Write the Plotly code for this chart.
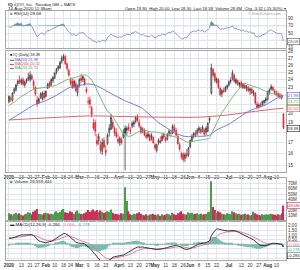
import numpy as np
import pandas as pd
import plotly.graph_objects as go

W, H = 300, 270

# ---------------- data ----------------
warmup_close = [16.6, 16.9, 17.1, 17.0, 17.3, 17.2, 17.5, 17.4, 17.6,
                17.8, 17.5, 17.9, 18.2, 18.0, 17.7, 17.9, 18.3, 18.1, 18.4, 18.6,
                18.2, 18.5, 18.9, 18.7, 19.0, 18.8, 19.1, 18.9, 19.2,
                19.0, 19.3, 19.6, 19.4, 19.8, 20.1, 19.9, 20.4, 20.8, 21.3, 21.9,
                21.6, 21.2, 20.9, 21.4, 21.1, 20.8, 21.0, 21.3, 21.1, 21.1]

open_ = [21.3, 21.5, 21.4, 22.4, 22.7, 23.5, 24.0, 23.6, 24.0, 23.3, 23.8, 24.1, 24.0, 24.5, 23.8, 23.0, 21.5, 21.2, 21.8, 21.6, 22.3,
         21.9, 22.9, 23.6, 23.3, 23.9, 24.2, 25.0, 25.5, 25.6, 26.5, 27.0, 27.3, 26.2, 25.3, 24.0, 23.8, 23.1, 23.5, 22.3,
         23.3, 24.2, 24.0, 24.1, 22.8, 21.2, 21.5, 20.6, 18.9, 19.0, 17.2, 17.2, 16.8, 16.2, 17.2, 16.3, 16.9, 18.0, 18.3, 19.0, 18.4, 18.0,
         17.3, 17.0, 17.3, 17.5, 18.4, 18.2, 18.5, 18.2, 18.6, 18.8, 19.1, 19.6, 19.0, 18.5, 18.2, 18.2, 17.7, 17.8, 17.7, 17.5, 17.5,
         16.8, 16.3, 17.0, 17.2, 17.2, 17.8, 17.4, 17.3, 17.9, 17.9, 17.9, 18.5, 18.2, 17.6, 16.8, 16.0, 16.0, 15.6, 16.0, 15.9,
         16.6, 17.2, 17.7, 17.9, 17.9, 18.2, 18.3, 18.1, 18.2, 18.0, 18.1, 19.2, 22.3, 25.4, 24.8, 23.7, 24.0, 22.9, 22.2, 22.6, 22.5, 23.0,
         23.3, 23.9, 24.2, 24.6, 23.6, 23.9, 23.3, 23.6, 23.0, 23.3, 22.9, 23.0, 22.6, 22.8, 22.3, 22.3, 21.0, 20.7, 20.9, 20.9, 21.2, 21.4,
         21.5, 22.4, 22.8, 23.0, 22.6, 22.3, 22.2, 21.9, 22.0, 19.9]
high = [22.0, 21.9, 22.4, 23.0, 23.5, 24.0, 24.6, 24.2, 24.3, 23.9, 24.2, 24.9, 25.1, 24.8, 24.0, 23.2, 21.9, 21.8, 22.4, 22.5, 22.6,
        22.6, 23.6, 23.8, 24.2, 24.5, 25.0, 25.6, 26.0, 26.6, 27.4, 27.6, 27.5, 26.4, 25.5, 24.3, 24.2, 24.0, 23.9, 23.4,
        24.2, 24.8, 24.6, 24.3, 23.1, 21.8, 21.9, 20.8, 19.4, 19.3, 17.8, 17.9, 17.2, 17.4, 17.5, 16.8, 17.9, 18.8, 19.9, 19.3, 18.6, 18.4,
        17.8, 17.6, 17.5, 18.3, 18.7, 18.6, 18.9, 18.5, 19.1, 19.2, 19.7, 19.9, 19.3, 18.7, 18.5, 18.4, 18.0, 18.1, 17.9, 17.9, 17.6,
        17.0, 16.9, 17.4, 17.6, 17.8, 18.0, 17.6, 17.9, 18.3, 18.2, 18.8, 18.8, 18.4, 17.8, 17.0, 16.2, 16.1, 16.1, 16.4, 16.6,
        17.3, 17.8, 18.0, 18.2, 18.4, 18.6, 18.5, 18.7, 18.4, 18.6, 19.0, 19.6, 26.2, 25.6, 25.0, 24.3, 24.2, 23.1, 22.8, 23.0, 23.2, 23.4,
        23.9, 24.3, 25.3, 24.8, 24.2, 24.0, 23.7, 23.9, 23.6, 23.5, 23.3, 23.2, 23.0, 23.0, 22.7, 22.4, 21.3, 21.1, 21.2, 21.4, 21.5, 21.8,
        22.6, 22.9, 23.4, 23.2, 22.8, 22.6, 22.5, 22.3, 22.2, 20.0]
low = [21.1, 21.2, 21.3, 22.2, 22.5, 23.2, 23.4, 23.3, 23.2, 23.0, 23.5, 23.8, 23.7, 23.9, 22.8, 21.9, 20.7, 21.0, 21.6, 21.4, 21.5,
       21.8, 22.8, 22.9, 23.2, 23.6, 24.1, 24.7, 25.2, 25.4, 26.2, 26.6, 26.0, 25.2, 24.4, 23.3, 22.8, 22.9, 22.4, 21.9,
       23.0, 23.6, 23.7, 23.2, 22.2, 20.9, 20.5, 19.5, 18.2, 17.6, 16.7, 16.8, 16.0, 15.9, 16.4, 15.8, 16.8, 17.6, 18.2, 18.3, 17.6, 17.4,
       16.9, 16.7, 16.8, 17.4, 14.6, 17.7, 18.1, 17.8, 18.4, 18.5, 18.9, 19.0, 18.4, 17.8, 17.9, 17.6, 17.3, 17.4, 17.1, 17.2, 16.9,
       16.3, 16.1, 16.8, 16.9, 17.1, 17.3, 17.0, 17.2, 17.6, 17.5, 17.8, 18.0, 17.6, 16.8, 16.2, 15.5, 15.3, 15.3, 15.6, 15.7,
       16.5, 17.1, 17.4, 17.5, 17.7, 17.9, 17.8, 18.0, 17.6, 17.7, 18.0, 18.9, 22.1, 24.3, 23.6, 23.5, 22.8, 21.9, 21.8, 22.3, 22.4, 22.7,
       23.1, 23.5, 23.9, 23.6, 23.4, 23.2, 23.0, 22.9, 22.8, 22.8, 22.5, 22.4, 22.1, 22.2, 21.9, 20.9, 20.4, 20.5, 20.6, 20.8, 20.9, 21.1,
       21.4, 22.1, 22.6, 22.5, 22.1, 21.9, 21.8, 21.6, 21.5, 18.3]
close = [21.9, 21.7, 22.3, 22.8, 23.3, 23.8, 23.6, 23.9, 23.4, 23.7, 24.0, 24.3, 24.6, 24.1, 23.2, 22.2, 21.0, 21.6, 22.2, 22.3, 21.7,
         22.5, 23.4, 23.1, 24.0, 24.3, 24.9, 25.4, 25.8, 26.4, 27.0, 27.2, 26.2, 25.5, 24.6, 23.5, 23.0, 23.8, 22.6, 23.2,
         24.0, 23.9, 24.4, 23.4, 22.5, 21.3, 21.0, 19.8, 18.4, 18.1, 16.9, 17.6, 16.3, 17.0, 16.6, 16.1, 17.7, 18.4, 19.5, 18.5, 17.9, 17.6,
         17.1, 17.4, 17.0, 17.8, 17.9, 18.4, 18.3, 18.1, 18.9, 19.0, 19.5, 19.2, 18.6, 18.0, 18.3, 17.7, 17.5, 17.6, 17.2, 17.7, 17.0,
         16.5, 16.8, 17.2, 17.0, 17.6, 17.5, 17.2, 17.8, 18.1, 17.9, 18.6, 18.2, 17.7, 16.9, 16.4, 15.7, 15.5, 15.9, 15.8, 16.5,
         17.2, 17.6, 17.9, 17.7, 18.2, 18.4, 18.0, 18.5, 17.8, 18.4, 18.9, 19.4, 25.6, 24.6, 23.9, 24.1, 23.0, 22.1, 22.6, 22.5, 23.0, 23.2,
         23.7, 23.8, 24.9, 23.8, 24.0, 23.4, 23.5, 23.1, 23.4, 22.9, 23.1, 22.6, 22.8, 22.3, 22.4, 21.1, 20.6, 20.9, 20.8, 21.3, 21.4, 21.6,
         22.4, 22.7, 23.1, 22.7, 22.3, 22.1, 21.9, 22.0, 21.7, 18.38]
volume_m = [14, 12, 10, 13, 15, 12, 14, 11, 10, 12, 13, 16, 15, 12, 17, 19, 22, 13, 12, 11, 14,
            15, 14, 12, 13, 12, 16, 18, 15, 17, 20, 22, 16, 15, 14, 18, 16, 13, 17, 19,
            14, 13, 12, 14, 16, 20, 17, 19, 21, 18, 20, 16, 19, 17, 15, 16, 18, 17, 21, 15, 12, 13,
            12, 11, 14, 13, 63, 37, 18, 12, 11, 13, 12, 14, 16, 13, 11, 10, 12, 10, 11, 12, 13,
            11, 10, 12, 9, 12, 10, 11, 13, 12, 10, 15, 12, 11, 14, 16, 18, 13, 12, 11, 16,
            14, 15, 12, 13, 14, 12, 13, 11, 12, 13, 16, 17, 74, 26, 20, 15, 18, 16, 13, 12, 11, 14,
            13, 12, 18, 16, 14, 12, 13, 11, 12, 13, 11, 12, 10, 11, 17, 14, 12, 11, 10, 12, 11, 12,
            11, 12, 13, 12, 11, 10, 12, 11, 14, 28.559444]

ma200_idx = [0, 5, 10, 15, 20, 25, 30, 35, 40, 45, 50, 55, 60, 65, 70, 75, 80, 85, 90, 95, 100,
             105, 110, 115, 120, 125, 130, 135, 140, 145, 150, 156]
ma200_val = [19.25, 19.3, 19.35, 19.4, 19.45, 19.5, 19.55, 19.6, 19.65, 19.68, 19.68, 19.66, 19.64,
             19.62, 19.6, 19.58, 19.56, 19.55, 19.54, 19.53, 19.52, 19.53, 19.56, 19.62, 19.7, 19.8,
             19.92, 20.05, 20.18, 20.3, 20.42, 20.52]

tick_idx = [0, 7, 12, 16, 21, 26, 31, 35, 40, 45, 50, 55, 62, 65, 69, 74, 79, 83, 89, 94, 99,
            103, 108, 113, 118, 125, 132, 137, 142, 147, 152]
tick_txt = ["<b>2020</b>", "13", "21", "27", "<b>Feb</b>", "10", "18", "24", "<b>Mar</b>", "9", "16", "23",
            "<b>Apr</b>", "6", "13", "20", "27", "<b>May</b>", "11", "18", "26", "<b>Jun</b>", "8", "15", "22",
            "<b>Jul</b>", "13", "20", "27", "<b>Aug</b>", "10"]

# drawn trend lines (index, price)
trend_blue = [112, 26.6, 160, 22.3]
level_upper = [110, 21.9]
level_lower = [43, 16.0]
level_gray = [10, 19.75]

# ---------------- indicators ----------------
n = len(close)
idx = np.arange(n)
k = len(warmup_close)
full = pd.Series(warmup_close + close, dtype=float)
ma20 = full.rolling(20).mean().iloc[k:].to_numpy()
ma50 = full.rolling(50).mean().iloc[k:].to_numpy()
d = full.diff().fillna(0)
ag = d.clip(lower=0).ewm(alpha=1 / 14, adjust=False).mean()
al = (-d.clip(upper=0)).ewm(alpha=1 / 14, adjust=False).mean()
rsi = (100 - 100 / (1 + ag / al)).iloc[k:].to_numpy()
ema12 = full.ewm(span=12, adjust=False).mean()
ema26 = full.ewm(span=26, adjust=False).mean()
macd_full = ema12 - ema26
sig_full = macd_full.ewm(span=9, adjust=False).mean()
macd = macd_full.iloc[k:].to_numpy()
sig = sig_full.iloc[k:].to_numpy()
hist = macd - sig

op = np.array(open_); hi = np.array(high); lo = np.array(low); cl = np.array(close)
prev = np.concatenate([[warmup_close[-1]], cl[:-1]])
up = cl >= prev
vol = np.array(volume_m)

FONT = "Liberation Sans"
GRID = "#e2e5ee"
BORDER = "#a8a8a8"

fig = go.Figure()

# RSI panel
fig.add_trace(go.Scatter(x=idx, y=np.full(n, 70.0), mode="lines", line=dict(width=0),
                         xaxis="x", yaxis="y", hoverinfo="skip", showlegend=False))
fig.add_trace(go.Scatter(x=idx, y=np.maximum(rsi, 70), mode="lines", line=dict(width=0),
                         fill="tonexty", fillcolor="rgba(60,150,125,0.9)",
                         xaxis="x", yaxis="y", hoverinfo="skip", showlegend=False))
fig.add_trace(go.Scatter(x=idx, y=rsi, mode="lines", line=dict(color="#8c8cd2", width=0.9),
                         xaxis="x", yaxis="y", showlegend=False))

# Main panel
fig.add_trace(go.Scatter(x=ma200_idx, y=ma200_val, mode="lines", line=dict(color="#e06666", width=1, shape="spline"),
                         xaxis="x2", yaxis="y2", showlegend=False))
fig.add_trace(go.Scatter(x=idx, y=ma50, mode="lines", line=dict(color="#6e6ed0", width=0.9),
                         xaxis="x2", yaxis="y2", showlegend=False))
fig.add_trace(go.Scatter(x=idx, y=ma20, mode="lines", line=dict(color="#6fb06f", width=0.9),
                         xaxis="x2", yaxis="y2", showlegend=False))
fig.add_trace(go.Candlestick(x=idx[up], open=op[up], high=hi[up], low=lo[up], close=cl[up],
                             increasing=dict(line=dict(color="#222222", width=0.7), fillcolor="white"),
                             decreasing=dict(line=dict(color="#222222", width=0.7), fillcolor="#222222"),
                             whiskerwidth=0, xaxis="x2", yaxis="y2", showlegend=False))
fig.add_trace(go.Candlestick(x=idx[~up], open=op[~up], high=hi[~up], low=lo[~up], close=cl[~up],
                             increasing=dict(line=dict(color="#e0202a", width=0.7), fillcolor="white"),
                             decreasing=dict(line=dict(color="#e0202a", width=0.7), fillcolor="#e0202a"),
                             whiskerwidth=0, xaxis="x2", yaxis="y2", showlegend=False))

# Volume panel
vcol = np.where(up, "#4c9a4c", "#c8305a")
fig.add_trace(go.Bar(x=idx, y=vol, marker=dict(color=vcol, line=dict(width=0)), width=0.75,
                     xaxis="x3", yaxis="y3", showlegend=False))

# MACD panel
fig.add_trace(go.Bar(x=idx, y=hist, marker=dict(color="#7cbcae", line=dict(width=0)), width=0.75,
                     xaxis="x4", yaxis="y4", showlegend=False))
fig.add_trace(go.Scatter(x=idx, y=sig, mode="lines", line=dict(color="#e07090", width=0.9),
                         xaxis="x4", yaxis="y4", showlegend=False))
fig.add_trace(go.Scatter(x=idx, y=macd, mode="lines", line=dict(color="#222222", width=0.9),
                         xaxis="x4", yaxis="y4", showlegend=False))

# ---------------- layout ----------------
XDOM = [4 / W, 286 / W]
XR = [-1.7, 157.5]

# panel pixel extents and ranges
P_RSI = (9, 47, 8.7, 110.0)
P_MAIN = (50, 173, np.log10(14.44), np.log10(28.04))
P_VOL = (179, 222, 0.0, 79.6)
P_MACD = (222, 262, -1.70, 2.55)


def ydom(p):
    return [1 - p[1] / H, 1 - p[0] / H]


def to_pix(p, v):
    top, bot, lo_, hi_ = p
    return top + (hi_ - v) / (hi_ - lo_) * (bot - top)


def spread(pixs, gap=5.6):
    order = np.argsort(pixs)
    out = list(pixs)
    last = -1e9
    for o in order:
        out[o] = max(out[o], last + gap)
        last = out[o]
    return out


def xax(show_labels, anchor):
    return dict(domain=XDOM, range=XR, tickvals=tick_idx, ticktext=tick_txt,
                showticklabels=show_labels, showgrid=True, gridcolor=GRID, gridwidth=1,
                showline=True, mirror=True, linecolor=BORDER, linewidth=1, zeroline=False,
                ticks="", tickfont=dict(size=4.6, color="#333", family=FONT), anchor=anchor,
                fixedrange=True, rangeslider=dict(visible=False), tickangle=0)


def yax(p, anchor, tickvals, ticktext, box_pix, typ="linear", tickpos=None):
    tp = tickpos if tickpos is not None else tickvals
    txts = [t if all(abs(to_pix(p, v) - b) > 4.6 for b in box_pix) else "" for t, v in zip(ticktext, tp)]
    return dict(domain=ydom(p), range=[p[2], p[3]], anchor=anchor, side="right", type=typ,
                tickvals=tickvals, ticktext=txts, showgrid=True, gridcolor=GRID,
                showline=True, mirror=True, linecolor=BORDER, linewidth=1, zeroline=False,
                ticks="", tickfont=dict(size=4.6, color="#333", family=FONT), fixedrange=True)


# value boxes on the right axis
box_specs = {
    "rsi": [(rsi[-1], f"{rsi[-1]:.2f}", "#555")],
    "main": [(ma50[-1], f"{ma50[-1]:.2f}", "#5a5ad0"),
             (ma20[-1], f"{ma20[-1]:.2f}", "#4f9f4f"),
             (ma200_val[-1], f"{ma200_val[-1]:.2f}", "#e05050"),
             (cl[-1], f"{cl[-1]:.2f}", "#222")],
    "vol": [(vol[-1], f"{vol[-1]:.1f}M", "#c8305a")],
    "macd": [(sig[-1], f"{sig[-1]:.3f}", "#e07090"),
             (macd[-1], f"{macd[-1]:.3f}", "#222"),
             (hist[-1], f"{hist[-1]:.3f}", "#4f9f8a")],
}
panels = {"rsi": P_RSI, "main": P_MAIN, "vol": P_VOL, "macd": P_MACD}
box_pix = {}
for key, specs in box_specs.items():
    p = panels[key]
    raw = [to_pix(p, np.log10(v) if key == "main" else v) for v, _, _ in specs]
    box_pix[key] = spread(raw)

price_ticks = [15, 16, 17, 18, 19, 20, 21, 22, 23, 24, 25, 26, 27, 28]
vol_ticks = [10, 20, 30, 40, 50, 60, 70]
macd_ticks = [-1.5, -1.0, -0.5, 0.0, 0.5, 1.0, 1.5, 2.0]
rsi_ticks = [10, 30, 50, 70, 90]

layout = dict(
    width=W, height=H, margin=dict(l=0, r=0, t=0, b=0),
    paper_bgcolor="white", plot_bgcolor="white", showlegend=False,
    font=dict(family=FONT, size=4.6, color="#222"),
    xaxis=xax(False, "y"),
    xaxis2=xax(True, "y2"),
    xaxis3=xax(False, "y3"),
    xaxis4=xax(True, "y4"),
    yaxis=yax(P_RSI, "x", rsi_ticks, [str(t) for t in rsi_ticks], box_pix["rsi"]),
    yaxis2=yax(P_MAIN, "x2", price_ticks, [str(t) for t in price_ticks], box_pix["main"], typ="log",
               tickpos=[np.log10(t) for t in price_ticks]),
    yaxis3=yax(P_VOL, "x3", vol_ticks, [f"{t}M" for t in vol_ticks], box_pix["vol"]),
    yaxis4=yax(P_MACD, "x4", macd_ticks, [f"{t:.2f}" for t in macd_ticks], box_pix["macd"]),
)
fig.update_layout(**layout)

shapes = []
for lvl in (70, 30):
    shapes.append(dict(type="line", xref="paper", x0=XDOM[0], x1=XDOM[1], yref="y", y0=lvl, y1=lvl,
                       line=dict(color="#8a8a8a", width=0.8), layer="below"))
shapes.append(dict(type="line", xref="paper", x0=XDOM[0], x1=XDOM[1], yref="y4", y0=0, y1=0,
                   line=dict(color="#b0b0b0", width=0.6), layer="below"))
# drawn lines on price panel
shapes.append(dict(type="line", xref="x2", yref="y2", x0=level_gray[0], x1=155, y0=np.log10(level_gray[1]),
                   y1=np.log10(level_gray[1]), line=dict(color="#9a9a9a", width=1.2)))
shapes.append(dict(type="line", xref="x2", yref="y2", x0=level_upper[0], x1=XR[1], y0=np.log10(level_upper[1]),
                   y1=np.log10(level_upper[1]), line=dict(color="#333333", width=1.4)))
shapes.append(dict(type="line", xref="x2", yref="y2", x0=level_lower[0], x1=XR[1], y0=np.log10(level_lower[1]),
                   y1=np.log10(level_lower[1]), line=dict(color="#333333", width=1.4)))
shapes.append(dict(type="line", xref="x2", yref="y2", x0=trend_blue[0], x1=trend_blue[2],
                   y0=np.log10(trend_blue[1]), y1=np.log10(trend_blue[3]), line=dict(color="#3c5cf0", width=1.5)))
fig.update_layout(shapes=shapes)


def px(x):
    return x / W


def py(y):
    return 1 - y / H


ann = []


def txt(x, y, s, color="#222", size=4.6, anchor="left"):
    ann.append(dict(x=px(x), y=py(y), xref="paper", yref="paper", text=s, showarrow=False,
                    xanchor=anchor, yanchor="middle", font=dict(size=size, color=color, family=FONT)))


chg = cl[-1] - cl[-2]
txt(4, 2.2, "<b>IQ</b> iQIYI, Inc.  Nasdaq GM + BATS", size=4.4)
txt(4, 6.4, "14-Aug-2020 11:38am", size=4.4)
txt(288, 6.4, f"Open {op[-1]:.2f}  High {hi[-1]:.2f}  Low {lo[-1]:.2f}  Last {cl[-1]:.2f}  "
              f"Volume {vol[-1]:.1f}M  Chg {chg:+.2f} ({chg / cl[-2] * 100:+.2f}%) ▾", size=4.2, anchor="right")
txt(283, 12.5, "© StockCharts.com", color="#999", size=3.8, anchor="right")
txt(6, 11.8, f"<span style='color:#8c8cd2'>■</span> RSI(14) {rsi[-1]:.2f}", size=4.4)

LEG = 3.8
txt(6, 54.3, f"<span style='color:#222'>■</span> IQ (Daily) {cl[-1]:.2f}", size=LEG)
txt(6, 58.4, f"▬ MA(50) {ma50[-1]:.2f}", color="#5a5ad0", size=LEG)
txt(6, 62.5, f"▬ MA(200) {ma200_val[-1]:.2f}", color="#e05050", size=LEG)
txt(6, 66.6, f"▬ MA(20) {ma20[-1]:.2f}", color="#4f9f4f", size=LEG)

txt(6, 182.5, f"<span style='color:#4c9a4c'>■</span> Volume {vol[-1] * 1e6:,.0f}", size=4.4)
txt(6, 225.5, f"▬ MACD(12,26,9) {macd[-1]:.3f}, <span style='color:#e07090'>{sig[-1]:.3f}</span>, "
              f"<span style='color:#4f9f8a'>{hist[-1]:.3f}</span>", size=4.4)

for key, specs in box_specs.items():
    for (v, s, c), bp in zip(specs, box_pix[key]):
        ann.append(dict(x=286.5 / W, xref="paper", xanchor="left", y=py(bp), yref="paper", yanchor="middle",
                        text=s, showarrow=False, bgcolor="white", bordercolor=c, borderwidth=0.6, borderpad=0.2,
                        font=dict(size=4.2, color=c, family=FONT)))

fig.update_layout(annotations=ann)
fig.write_html("out.html")
